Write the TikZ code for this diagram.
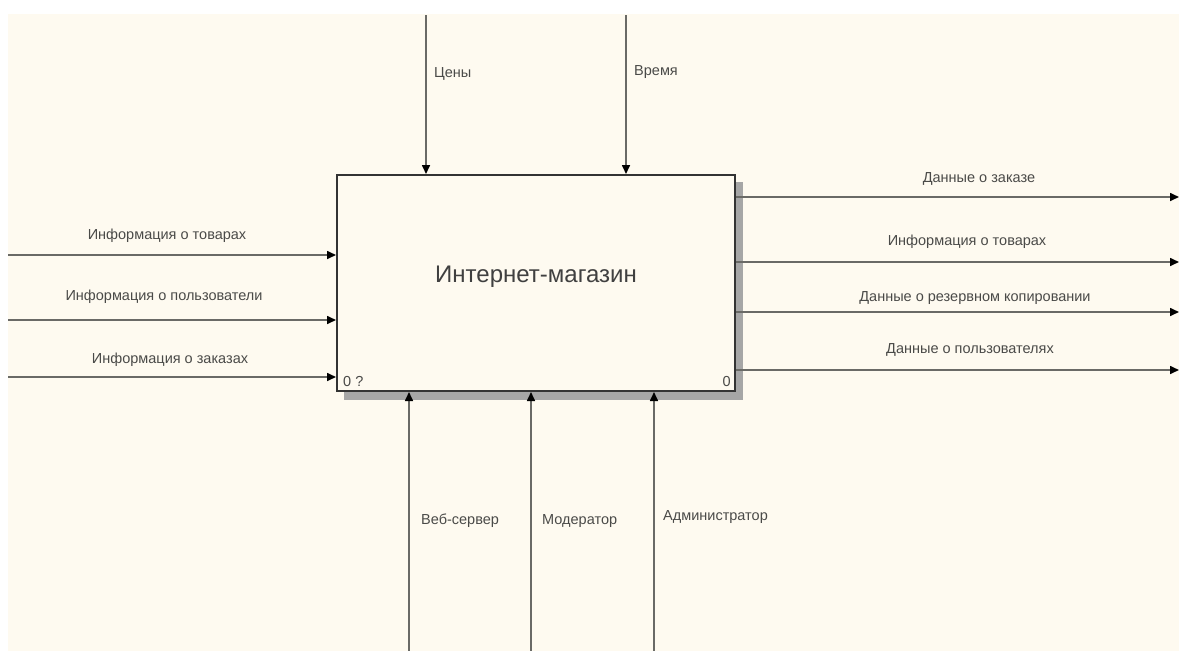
\documentclass[tikz,border=0pt]{standalone}
\usepackage{fontspec}
\setmainfont{Liberation Sans}
\usetikzlibrary{arrows.meta}
\definecolor{paper}{HTML}{FEFAF0}
\definecolor{wire}{HTML}{6A6A66}
\definecolor{ink}{HTML}{4A4A48}
\begin{document}
\begin{tikzpicture}[x=1pt,y=-1pt,
  flow/.style={draw=wire,line width=1.6pt,-{Triangle[length=9pt,width=8pt,fill=black,color=black]}},
  lbl/.style={text=ink,font=\fontsize{14.5}{16}\selectfont,inner sep=0pt},
  func/.style={draw=black!80,line width=2pt,fill=paper,minimum width=398pt,minimum height=216pt,inner sep=0pt}]
\useasboundingbox (0,0) rectangle (1179,651);
\fill[white] (0,0) rectangle (1179,651);
\fill[paper] (8,14) rectangle (1179,651);

% shadow and activity box
\fill[black!35] (344,182) rectangle (743,400);
\node[func] (box) at (536,283) {};
\node[text=black!75,font=\fontsize{24}{28}\selectfont] at (536,277) {Интернет-магазин};
\node[lbl,anchor=south west] at (343,387) {0 ?};
\node[lbl,anchor=south east] at (731,387) {0};

% controls
\coordinate (c1) at (426,15);
\coordinate (c2) at (626,15);
\draw[flow] (c1) -- (c1 |- box.north);
\draw[flow] (c2) -- (c2 |- box.north);
\node[lbl,anchor=west] at (434,74) {Цены};
\node[lbl,anchor=west] at (634,72) {Время};

% inputs
\coordinate (i1) at (8,255);
\coordinate (i2) at (8,320);
\coordinate (i3) at (8,377);
\draw[flow] (i1) -- (i1 -| box.west);
\draw[flow] (i2) -- (i2 -| box.west);
\draw[flow] (i3) -- (i3 -| box.west);
\node[lbl] at (167,236) {Информация о товарах};
\node[lbl] at (164,297) {Информация о пользователи};
\node[lbl] at (170,360) {Информация о заказах};

% outputs
\coordinate (o1) at (1179,197);
\coordinate (o2) at (1179,262);
\coordinate (o3) at (1179,312);
\coordinate (o4) at (1179,370);
\draw[flow] (o1 -| box.east) -- (o1);
\draw[flow] (o2 -| box.east) -- (o2);
\draw[flow] (o3 -| box.east) -- (o3);
\draw[flow] (o4 -| box.east) -- (o4);
\node[lbl] at (979,179) {Данные о заказе};
\node[lbl] at (967,242) {Информация о товарах};
\node[lbl] at (975,298) {Данные о резервном копировании};
\node[lbl] at (970,350) {Данные о пользователях};

% mechanisms
\coordinate (m1) at (409,651);
\coordinate (m2) at (531,651);
\coordinate (m3) at (654,651);
\draw[flow] (m1) -- (m1 |- box.south);
\draw[flow] (m2) -- (m2 |- box.south);
\draw[flow] (m3) -- (m3 |- box.south);
\node[lbl,anchor=west] at (421,521) {Веб-сервер};
\node[lbl,anchor=west] at (542,521) {Модератор};
\node[lbl,anchor=west] at (663,517) {Администратор};
\end{tikzpicture}
\end{document}
